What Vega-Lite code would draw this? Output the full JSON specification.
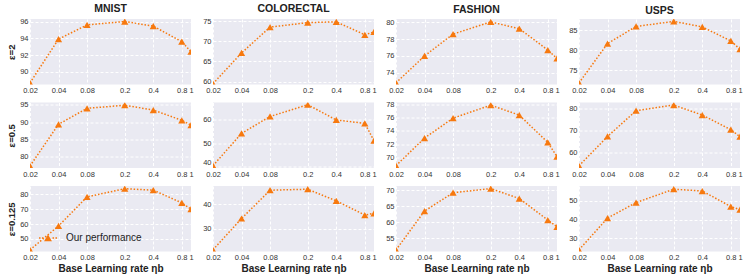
{
  "$schema": "https://vega.github.io/schema/vega-lite/v6.json",
  "background": "#ffffff",
  "padding": {"left": 6, "top": 3, "right": 4, "bottom": 2},
  "datasets": {
    "m2": [{"lr":0.02,"acc":88.7},{"lr":0.04,"acc":93.9},{"lr":0.08,"acc":95.6},{"lr":0.2,"acc":96.0},{"lr":0.4,"acc":95.45},{"lr":0.8,"acc":93.6},{"lr":1,"acc":92.4}],
    "c2": [{"lr":0.02,"acc":59.5},{"lr":0.04,"acc":67.1},{"lr":0.08,"acc":73.5},{"lr":0.2,"acc":74.6},{"lr":0.4,"acc":74.8},{"lr":0.8,"acc":71.6},{"lr":1,"acc":72.3}],
    "f2": [{"lr":0.02,"acc":72.8},{"lr":0.04,"acc":76.0},{"lr":0.08,"acc":78.6},{"lr":0.2,"acc":80.05},{"lr":0.4,"acc":79.25},{"lr":0.8,"acc":76.7},{"lr":1,"acc":75.7}],
    "u2": [{"lr":0.02,"acc":71.9},{"lr":0.04,"acc":81.65},{"lr":0.08,"acc":85.9},{"lr":0.2,"acc":87.15},{"lr":0.4,"acc":85.8},{"lr":0.8,"acc":82.3},{"lr":1,"acc":80.25}],
    "m05": [{"lr":0.02,"acc":77.2},{"lr":0.04,"acc":89.35},{"lr":0.08,"acc":94.0},{"lr":0.2,"acc":94.9},{"lr":0.4,"acc":93.5},{"lr":0.8,"acc":90.5},{"lr":1,"acc":89.1}],
    "c05": [{"lr":0.02,"acc":40.4},{"lr":0.04,"acc":54.25},{"lr":0.08,"acc":61.5},{"lr":0.2,"acc":66.55},{"lr":0.4,"acc":60.0},{"lr":0.8,"acc":58.55},{"lr":1,"acc":51.1}],
    "f05": [{"lr":0.02,"acc":68.75},{"lr":0.04,"acc":72.9},{"lr":0.08,"acc":75.9},{"lr":0.2,"acc":77.85},{"lr":0.4,"acc":76.35},{"lr":0.8,"acc":72.25},{"lr":1,"acc":70.1}],
    "u05": [{"lr":0.02,"acc":54.0},{"lr":0.04,"acc":67.2},{"lr":0.08,"acc":78.8},{"lr":0.2,"acc":81.35},{"lr":0.4,"acc":76.85},{"lr":0.8,"acc":70.25},{"lr":1,"acc":67.1}],
    "m0125": [{"lr":0.02,"acc":42.7},{"lr":0.04,"acc":58.7},{"lr":0.08,"acc":78.2},{"lr":0.2,"acc":83.7},{"lr":0.4,"acc":82.7},{"lr":0.8,"acc":74.2},{"lr":1,"acc":70.0}],
    "c0125": [{"lr":0.02,"acc":21.6},{"lr":0.04,"acc":34.2},{"lr":0.08,"acc":45.6},{"lr":0.2,"acc":46.0},{"lr":0.4,"acc":41.3},{"lr":0.8,"acc":35.6},{"lr":1,"acc":36.3}],
    "f0125": [{"lr":0.02,"acc":51.4},{"lr":0.04,"acc":63.5},{"lr":0.08,"acc":69.2},{"lr":0.2,"acc":70.5},{"lr":0.4,"acc":67.4},{"lr":0.8,"acc":60.7},{"lr":1,"acc":58.6}],
    "u0125": [{"lr":0.02,"acc":23.8},{"lr":0.04,"acc":40.8},{"lr":0.08,"acc":49.1},{"lr":0.2,"acc":56.3},{"lr":0.4,"acc":55.3},{"lr":0.8,"acc":47.0},{"lr":1,"acc":45.3}]
  },
  "columns": 4,
  "spacing": {"row": 17.5, "column": 22},
  "bounds": "flush",
  "resolve": {"scale": {"color": "independent"}, "legend": {"color": "independent"}},
  "concat": [
    {
      "title": "MNIST",
      "data": {"name": "m2"},
      "mark": {"type": "line", "color": "#f7790f", "strokeDash": [1.5, 1.8], "strokeWidth": 1.5, "clip": true, "point": {"shape": "triangle-up", "filled": true, "size": 52, "color": "#f7790f", "clip": true}},
      "encoding": {
        "x": {"field": "lr", "type": "quantitative", "scale": {"type": "log", "domain": [0.02, 1]}, "axis": {"values": [0.02, 0.04, 0.08, 0.2, 0.4, 0.8, 1], "format": "~g", "title": null}},
        "y": {"field": "acc", "type": "quantitative", "scale": {"domain": [88.5, 96.3], "zero": false, "nice": false}, "axis": {"values": [90, 92, 94, 96], "title": "ε=2"}}
      }
    },
    {
      "title": "COLORECTAL",
      "data": {"name": "c2"},
      "mark": {"type": "line", "color": "#f7790f", "strokeDash": [1.5, 1.8], "strokeWidth": 1.5, "clip": true, "point": {"shape": "triangle-up", "filled": true, "size": 52, "color": "#f7790f", "clip": true}},
      "encoding": {
        "x": {"field": "lr", "type": "quantitative", "scale": {"type": "log", "domain": [0.02, 1]}, "axis": {"values": [0.02, 0.04, 0.08, 0.2, 0.4, 0.8, 1], "format": "~g", "title": null}},
        "y": {"field": "acc", "type": "quantitative", "scale": {"domain": [59.3, 75.5], "zero": false, "nice": false}, "axis": {"values": [60, 65, 70, 75], "title": null}}
      }
    },
    {
      "title": "FASHION",
      "data": {"name": "f2"},
      "mark": {"type": "line", "color": "#f7790f", "strokeDash": [1.5, 1.8], "strokeWidth": 1.5, "clip": true, "point": {"shape": "triangle-up", "filled": true, "size": 52, "color": "#f7790f", "clip": true}},
      "encoding": {
        "x": {"field": "lr", "type": "quantitative", "scale": {"type": "log", "domain": [0.02, 1]}, "axis": {"values": [0.02, 0.04, 0.08, 0.2, 0.4, 0.8, 1], "format": "~g", "title": null}},
        "y": {"field": "acc", "type": "quantitative", "scale": {"domain": [72.6, 80.4], "zero": false, "nice": false}, "axis": {"values": [74, 76, 78, 80], "title": null}}
      }
    },
    {
      "title": "USPS",
      "data": {"name": "u2"},
      "mark": {"type": "line", "color": "#f7790f", "strokeDash": [1.5, 1.8], "strokeWidth": 1.5, "clip": true, "point": {"shape": "triangle-up", "filled": true, "size": 52, "color": "#f7790f", "clip": true}},
      "encoding": {
        "x": {"field": "lr", "type": "quantitative", "scale": {"type": "log", "domain": [0.02, 1]}, "axis": {"values": [0.02, 0.04, 0.08, 0.2, 0.4, 0.8, 1], "format": "~g", "title": null}},
        "y": {"field": "acc", "type": "quantitative", "scale": {"domain": [71.5, 87.75], "zero": false, "nice": false}, "axis": {"values": [75, 80, 85], "title": null}}
      }
    },
    {
      "data": {"name": "m05"},
      "mark": {"type": "line", "color": "#f7790f", "strokeDash": [1.5, 1.8], "strokeWidth": 1.5, "clip": true, "point": {"shape": "triangle-up", "filled": true, "size": 52, "color": "#f7790f", "clip": true}},
      "encoding": {
        "x": {"field": "lr", "type": "quantitative", "scale": {"type": "log", "domain": [0.02, 1]}, "axis": {"values": [0.02, 0.04, 0.08, 0.2, 0.4, 0.8, 1], "format": "~g", "title": null}},
        "y": {"field": "acc", "type": "quantitative", "scale": {"domain": [76.6, 95.7], "zero": false, "nice": false}, "axis": {"values": [80, 85, 90, 95], "title": "ε=0.5"}}
      }
    },
    {
      "data": {"name": "c05"},
      "mark": {"type": "line", "color": "#f7790f", "strokeDash": [1.5, 1.8], "strokeWidth": 1.5, "clip": true, "point": {"shape": "triangle-up", "filled": true, "size": 52, "color": "#f7790f", "clip": true}},
      "encoding": {
        "x": {"field": "lr", "type": "quantitative", "scale": {"type": "log", "domain": [0.02, 1]}, "axis": {"values": [0.02, 0.04, 0.08, 0.2, 0.4, 0.8, 1], "format": "~g", "title": null}},
        "y": {"field": "acc", "type": "quantitative", "scale": {"domain": [39.4, 67.5], "zero": false, "nice": false}, "axis": {"values": [40, 50, 60], "title": null, "labelFlush": 3}}
      }
    },
    {
      "data": {"name": "f05"},
      "mark": {"type": "line", "color": "#f7790f", "strokeDash": [1.5, 1.8], "strokeWidth": 1.5, "clip": true, "point": {"shape": "triangle-up", "filled": true, "size": 52, "color": "#f7790f", "clip": true}},
      "encoding": {
        "x": {"field": "lr", "type": "quantitative", "scale": {"type": "log", "domain": [0.02, 1]}, "axis": {"values": [0.02, 0.04, 0.08, 0.2, 0.4, 0.8, 1], "format": "~g", "title": null}},
        "y": {"field": "acc", "type": "quantitative", "scale": {"domain": [68.4, 78.25], "zero": false, "nice": false}, "axis": {"values": [70, 72, 74, 76, 78], "title": null}}
      }
    },
    {
      "data": {"name": "u05"},
      "mark": {"type": "line", "color": "#f7790f", "strokeDash": [1.5, 1.8], "strokeWidth": 1.5, "clip": true, "point": {"shape": "triangle-up", "filled": true, "size": 52, "color": "#f7790f", "clip": true}},
      "encoding": {
        "x": {"field": "lr", "type": "quantitative", "scale": {"type": "log", "domain": [0.02, 1]}, "axis": {"values": [0.02, 0.04, 0.08, 0.2, 0.4, 0.8, 1], "format": "~g", "title": null}},
        "y": {"field": "acc", "type": "quantitative", "scale": {"domain": [53.0, 82.5], "zero": false, "nice": false}, "axis": {"values": [60, 70, 80], "title": null}}
      }
    },
    {
      "data": {"name": "m0125"},
      "encoding": {
        "x": {"field": "lr", "type": "quantitative", "scale": {"type": "log", "domain": [0.02, 1]}, "axis": {"values": [0.02, 0.04, 0.08, 0.2, 0.4, 0.8, 1], "format": "~g", "title": "Base Learning rate ηb"}},
        "y": {"field": "acc", "type": "quantitative", "scale": {"domain": [41.6, 85.5], "zero": false, "nice": false}, "axis": {"values": [50, 60, 70, 80], "title": "ε=0.125"}}
      },
      "layer": [
        {"mark": {"type": "line", "color": "#f7790f", "strokeDash": [1.5, 1.8], "strokeWidth": 1.5, "clip": true}},
        {
          "mark": {"type": "point", "shape": "triangle-up", "filled": true, "size": 52, "opacity": 1, "clip": true},
          "encoding": {
            "color": {"datum": "Our performance", "scale": {"range": ["#f7790f"]}, "legend": {
              "orient": "none", "legendX": 9, "legendY": 43, "title": null,
              "symbolType": "M-1,-0.08h0.17v0.16h-0.17zM-0.67,-0.08h0.17v0.16h-0.17zM0.5,-0.08h0.17v0.16h-0.17zM0.83,-0.08h0.17v0.16h-0.17zM0,-0.4L0.44,0.36L-0.44,0.36Z",
              "symbolSize": 324, "symbolStrokeWidth": 0, "symbolOpacity": 1,
              "labelFont": "Liberation Sans", "labelFontSize": 10, "labelColor": "#222222", "labelOffset": 9
            }}
          }
        }
      ]
    },
    {
      "data": {"name": "c0125"},
      "mark": {"type": "line", "color": "#f7790f", "strokeDash": [1.5, 1.8], "strokeWidth": 1.5, "clip": true, "point": {"shape": "triangle-up", "filled": true, "size": 52, "color": "#f7790f", "clip": true}},
      "encoding": {
        "x": {"field": "lr", "type": "quantitative", "scale": {"type": "log", "domain": [0.02, 1]}, "axis": {"values": [0.02, 0.04, 0.08, 0.2, 0.4, 0.8, 1], "format": "~g", "title": "Base Learning rate ηb"}},
        "y": {"field": "acc", "type": "quantitative", "scale": {"domain": [20.9, 47.3], "zero": false, "nice": false}, "axis": {"values": [30, 40], "title": null}}
      }
    },
    {
      "data": {"name": "f0125"},
      "mark": {"type": "line", "color": "#f7790f", "strokeDash": [1.5, 1.8], "strokeWidth": 1.5, "clip": true, "point": {"shape": "triangle-up", "filled": true, "size": 52, "color": "#f7790f", "clip": true}},
      "encoding": {
        "x": {"field": "lr", "type": "quantitative", "scale": {"type": "log", "domain": [0.02, 1]}, "axis": {"values": [0.02, 0.04, 0.08, 0.2, 0.4, 0.8, 1], "format": "~g", "title": "Base Learning rate ηb"}},
        "y": {"field": "acc", "type": "quantitative", "scale": {"domain": [50.9, 71.3], "zero": false, "nice": false}, "axis": {"values": [55, 60, 65, 70], "title": null}}
      }
    },
    {
      "data": {"name": "u0125"},
      "mark": {"type": "line", "color": "#f7790f", "strokeDash": [1.5, 1.8], "strokeWidth": 1.5, "clip": true, "point": {"shape": "triangle-up", "filled": true, "size": 52, "color": "#f7790f", "clip": true}},
      "encoding": {
        "x": {"field": "lr", "type": "quantitative", "scale": {"type": "log", "domain": [0.02, 1]}, "axis": {"values": [0.02, 0.04, 0.08, 0.2, 0.4, 0.8, 1], "format": "~g", "title": "Base Learning rate ηb"}},
        "y": {"field": "acc", "type": "quantitative", "scale": {"domain": [22.9, 58.0], "zero": false, "nice": false}, "axis": {"values": [30, 40, 50], "title": null}}
      }
    }
  ],
  "config": {
    "view": {"continuousWidth": 161, "continuousHeight": 65.5, "fill": "#EAEAF2", "stroke": null},
    "axis": {
      "domain": false, "ticks": false, "grid": true, "gridColor": "#ffffff", "gridDash": [3, 2], "gridWidth": 1,
      "labelFont": "Liberation Sans", "labelFontSize": 7.5, "labelColor": "#333333", "labelPadding": 2,
      "labelOverlap": false, "labelFlush": false, "labelBound": false,
      "titleFont": "Liberation Sans", "titleFontSize": 10, "titleFontWeight": "bold", "titleColor": "#222222"
    },
    "axisY": {"titleFontSize": 9.5, "titlePadding": 3},
    "axisX": {"titlePadding": 2},
    "title": {"font": "Liberation Sans", "fontSize": 10.5, "fontWeight": "bold", "color": "#222222", "offset": 3}
  }
}
